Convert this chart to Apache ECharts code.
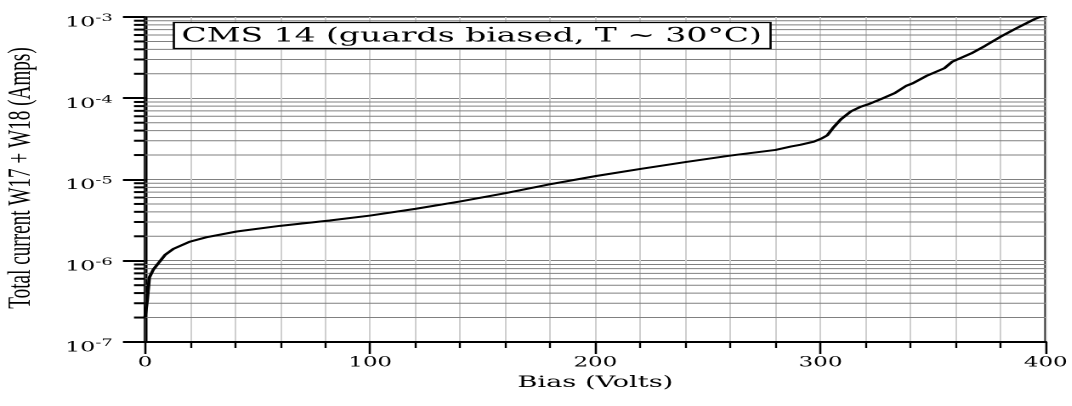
<!DOCTYPE html>
<html>
<head>
<meta charset="utf-8">
<script src="https://cdn.jsdelivr.net/npm/echarts@6/dist/echarts.min.js"></script>
<style>
  html, body { margin: 0; padding: 0; background: #fff; overflow: hidden; width: 1072px; height: 406px; }
  #wrap { width: 1072px; height: 406px; overflow: hidden; }
  #chart { height: 406px; transform-origin: 0 0; }
</style>
</head>
<body>
<div id="wrap"><div id="chart"></div></div>
<script>
// I-V scan: bias voltage (V) and total leakage current (A)
const biasVolts = [
  0, 1.0, 1.9, 3.7, 5.9, 8.9, 12.6, 20, 27.4, 40.7,
  60, 82, 100, 120, 140, 160, 180, 200, 220, 240,
  260, 280, 287, 291, 297, 300.5, 303, 305.5, 309, 313.5,
  318, 322, 327, 333, 338, 341, 347, 355, 358.5, 367,
  373, 380, 387, 395, 400
];
const currentAmps = [
  2.0e-7, 3.3e-7, 6.2e-7, 7.8e-7, 9.3e-7, 1.18e-6, 1.40e-6, 1.72e-6, 1.95e-6, 2.29e-6,
  2.69e-6, 3.13e-6, 3.6e-6, 4.35e-6, 5.37e-6, 6.78e-6, 8.75e-6, 1.1e-5, 1.35e-5, 1.64e-5,
  1.97e-5, 2.31e-5, 2.55e-5, 2.67e-5, 2.92e-5, 3.2e-5, 3.5e-5, 4.3e-5, 5.5e-5, 6.9e-5,
  7.9e-5, 8.6e-5, 9.8e-5, 1.16e-4, 1.42e-4, 1.53e-4, 1.88e-4, 2.34e-4, 2.82e-4, 3.57e-4,
  4.4e-4, 5.73e-4, 7.26e-4, 9.4e-4, 1.07e-3
];
const xTickLabels = ['0', '100', '200', '300', '400'];
const yTickExponents = ['-7', '-6', '-5', '-4', '-3'];
const minorMantissas = [2, 3, 4, 5, 6, 7, 8, 9];
const titleText = 'CMS 14 (guards biased, T ~ 30°C)';
const xName = 'Bias (Volts)';
const yName = 'Total current W17 + W18 (Amps)';

// the figure is laid out narrow and widened horizontally
const S = 1.7;
const W = 1072 / S;
const dom = document.getElementById('chart');
dom.style.width = W + 'px';
dom.style.transform = 'scaleX(' + S + ')';

// minor decade values (2..9 x 10^n) for the log axis
const minorValues = [];
for (let e = -7; e < -3; e++) {
  minorMantissas.forEach(m => minorValues.push([0, m * Math.pow(10, e)]));
}

const chart = echarts.init(dom, null, { renderer: 'canvas', devicePixelRatio: 2 });
const serif = 'DejaVu Serif';

chart.setOption({
  animation: false,
  backgroundColor: '#fff',
  title: {
    text: titleText,
    left: 173 / S,
    top: 22,
    padding: [5, 5, 3, 5],
    borderColor: '#000',
    borderWidth: 1.3,
    backgroundColor: '#fff',
    textStyle: { fontFamily: serif, fontSize: 19.4, fontWeight: 'normal', color: '#000' }
  },
  grid: {
    left: 145 / S, right: 27 / S, top: 17, bottom: 64,
    show: true, borderColor: '#000', borderWidth: 1.6, backgroundColor: 'transparent'
  },
  graphic: [{
    type: 'text',
    x: 21 / S,
    y: 178,
    rotation: Math.PI / 2,
    style: {
      text: yName,
      font: '19.2px "Liberation Serif"',
      fill: '#000',
      align: 'center',
      verticalAlign: 'middle'
    }
  }],
  xAxis: {
    type: 'value', min: 0, max: 400, interval: 100,
    name: xName, nameLocation: 'middle', nameGap: 29,
    nameTextStyle: { fontFamily: serif, fontSize: 16, color: '#000' },
    axisLine: { onZero: false, lineStyle: { color: '#000', width: 2 } },
    axisTick: { length: 12, lineStyle: { color: '#000', width: 1.3 } },
    minorTick: { show: true, splitNumber: 5, length: 6, lineStyle: { color: '#000', width: 1.2 } },
    splitLine: { show: true, lineStyle: { color: '#cfcfcf', width: 1 } },
    minorSplitLine: { show: true, lineStyle: { color: '#cfcfcf', width: 1 } },
    axisLabel: {
      margin: 14, fontFamily: serif, fontSize: 13.5, color: '#000',
      formatter: v => xTickLabels[Math.round(v / 100)]
    }
  },
  yAxis: {
    type: 'log', logBase: 10, min: 1e-7, max: 1e-3,
    axisLine: { show: true, onZero: false, lineStyle: { color: '#000', width: 1.5 } },
    axisTick: { show: true, length: 13, lineStyle: { color: '#000', width: 2 } },
    splitLine: { show: true, lineStyle: { color: '#808080', width: 1 } },
    axisLabel: {
      margin: 19,
      formatter: v => '{b|10}{s|' + yTickExponents[Math.round(Math.log10(v)) + 7] + '}',
      rich: {
        b: { fontFamily: serif, fontSize: 14, lineHeight: 14, color: '#000', padding: [6, 0, 6, 0], verticalAlign: 'top' },
        s: { fontFamily: serif, fontSize: 10.5, lineHeight: 12, color: '#000', padding: [3, 0, 11, 0], verticalAlign: 'top' }
      }
    }
  },
  series: [
    {
      // minor log gridlines and outside minor ticks
      type: 'custom',
      coordinateSystem: 'cartesian2d',
      data: minorValues,
      clip: false,
      silent: true,
      z: 1,
      renderItem: (params, api) => {
        const p = api.coord([0, api.value(1)]);
        const x0 = params.coordSys.x;
        const x1 = x0 + params.coordSys.width;
        return {
          type: 'group',
          children: [
            { type: 'line', shape: { x1: x0, y1: p[1], x2: x1, y2: p[1] }, style: { stroke: '#808080', lineWidth: 1 } },
            { type: 'line', shape: { x1: x0 - 6.5, y1: p[1], x2: x0, y2: p[1] }, style: { stroke: '#000', lineWidth: 2 } }
          ]
        };
      }
    },
    {
      type: 'line',
      data: biasVolts.map((v, i) => [v, currentAmps[i]]),
      showSymbol: false,
      symbol: 'none',
      clip: true,
      z: 3,
      lineStyle: { color: '#000', width: 2 }
    }
  ]
});
</script>
</body>
</html>
